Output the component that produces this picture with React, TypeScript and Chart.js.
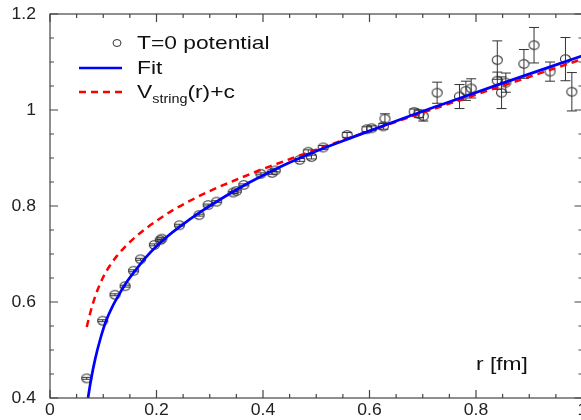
import React, { useEffect, useRef } from "react";
import { Chart, registerables } from "chart.js";

Chart.register(...registerables);

// Lattice potential data points (r in fm, V, error)
const rPts = [0.069, 0.099, 0.122, 0.141, 0.157, 0.170, 0.196, 0.207, 0.210, 0.243, 0.280, 0.297, 0.313, 0.344, 0.350, 0.364, 0.396, 0.417, 0.423, 0.469, 0.485, 0.491, 0.513, 0.558, 0.595, 0.604, 0.626, 0.629, 0.684, 0.693, 0.701, 0.727, 0.769, 0.781, 0.791, 0.840, 0.840, 0.848, 0.856, 0.890, 0.909, 0.939, 0.968, 0.980];
const vPts = [0.441, 0.561, 0.615, 0.633, 0.665, 0.689, 0.719, 0.729, 0.732, 0.760, 0.781, 0.802, 0.809, 0.828, 0.831, 0.844, 0.867, 0.869, 0.874, 0.896, 0.913, 0.902, 0.922, 0.948, 0.960, 0.962, 0.966, 0.982, 0.996, 0.992, 0.987, 1.036, 1.028, 1.040, 1.045, 1.104, 1.061, 1.036, 1.057, 1.096, 1.135, 1.080, 1.106, 1.038];
const vErr = [0.002, 0.002, 0.002, 0.002, 0.002, 0.002, 0.002, 0.002, 0.002, 0.002, 0.002, 0.002, 0.002, 0.002, 0.002, 0.002, 0.002, 0.003, 0.003, 0.003, 0.004, 0.004, 0.004, 0.005, 0.005, 0.005, 0.006, 0.010, 0.006, 0.008, 0.010, 0.022, 0.025, 0.020, 0.020, 0.040, 0.018, 0.033, 0.020, 0.030, 0.037, 0.020, 0.045, 0.040];

// Fit curve (blue)
const rFit = [0.0714, 0.077, 0.085, 0.095, 0.105, 0.117, 0.130, 0.145, 0.162, 0.180, 0.200, 0.222, 0.244, 0.282, 0.338, 0.376, 0.413, 0.451, 0.488, 0.570, 0.664, 0.732, 0.850, 1.000];
const vFit = [0.400, 0.438, 0.482, 0.525, 0.560, 0.590, 0.616, 0.643, 0.668, 0.693, 0.716, 0.738, 0.757, 0.787, 0.826, 0.850, 0.871, 0.891, 0.909, 0.944, 0.983, 1.010, 1.056, 1.113];

// String potential + c (red dashed)
const rStr = [0.069, 0.075, 0.082, 0.090, 0.100, 0.112, 0.125, 0.140, 0.160, 0.180, 0.200, 0.232, 0.294, 0.357, 0.400, 0.451, 0.532, 0.657, 0.800, 1.000];
const vStr = [0.548, 0.575, 0.602, 0.627, 0.652, 0.675, 0.695, 0.714, 0.735, 0.753, 0.769, 0.792, 0.828, 0.858, 0.877, 0.898, 0.930, 0.978, 1.032, 1.106];

const xTickValues = [0, 0.2, 0.4, 0.6, 0.8, 1.0];
const xTickLabels = ["0", "0.2", "0.4", "0.6", "0.8", "1"];
const yTickValues = [0.4, 0.6, 0.8, 1.0, 1.2];
const yTickLabels = ["0.4", "0.6", "0.8", "1", "1.2"];

const legendPoints = "T=0 potential";
const legendFit = "Fit";
const legendStrMain = "V";
const legendStrSub = "string";
const legendStrTail = "(r)+c";
const xTitle = "r [fm]";

const FONT = "'Liberation Sans', Arial, Helvetica, sans-serif";

function makeEllipse(rx: number, ry: number): HTMLCanvasElement {
  const c = document.createElement("canvas");
  c.width = Math.ceil(rx * 2 + 3);
  c.height = Math.ceil(ry * 2 + 3);
  const g = c.getContext("2d")!;
  g.strokeStyle = "#333";
  g.lineWidth = 1.1;
  g.beginPath();
  g.ellipse(c.width / 2, c.height / 2, rx, ry, 0, 0, Math.PI * 2);
  g.stroke();
  return c;
}

function stretchText(ctx: CanvasRenderingContext2D, text: string, x: number, y: number, align: CanvasTextAlign, sx: number) {
  ctx.save();
  ctx.translate(x, y);
  ctx.scale(sx, 1);
  ctx.textAlign = align;
  ctx.fillText(text, 0, 0);
  const w = ctx.measureText(text).width * sx;
  ctx.restore();
  return w;
}

const framePlugin = {
  id: "framePlugin",
  beforeDatasetsDraw(chart: any) {
    const ctx = chart.ctx as CanvasRenderingContext2D;
    const xs = chart.scales.x;
    const ys = chart.scales.y;
    ctx.save();
    ctx.strokeStyle = "#333";
    ctx.lineWidth = 1;
    for (let i = 0; i < rPts.length; i++) {
      const px = xs.getPixelForValue(rPts[i]);
      const pTop = ys.getPixelForValue(vPts[i] + vErr[i]);
      const pBot = ys.getPixelForValue(vPts[i] - vErr[i]);
      const cap = 5;
      ctx.beginPath();
      ctx.moveTo(px, pTop);
      ctx.lineTo(px, pBot);
      ctx.moveTo(px - cap, pTop);
      ctx.lineTo(px + cap, pTop);
      ctx.moveTo(px - cap, pBot);
      ctx.lineTo(px + cap, pBot);
      ctx.stroke();
    }
    ctx.restore();
  },
  afterDraw(chart: any) {
    const ctx = chart.ctx as CanvasRenderingContext2D;
    const xs = chart.scales.x;
    const ys = chart.scales.y;
    const a = chart.chartArea;
    ctx.save();
    ctx.strokeStyle = "#444";
    ctx.lineWidth = 1.2;
    ctx.strokeRect(a.left, a.top, a.right - a.left, a.bottom - a.top);

    // ticks
    ctx.beginPath();
    for (let k = 0; k <= 20; k++) {
      const v = k * 0.05;
      const major = k % 4 === 0;
      const len = major ? 8 : 4;
      const px = xs.getPixelForValue(v);
      ctx.moveTo(px, a.bottom);
      ctx.lineTo(px, a.bottom - len);
      ctx.moveTo(px, a.top);
      ctx.lineTo(px, a.top + len);
    }
    for (let k = 0; k <= 16; k++) {
      const v = 0.4 + k * 0.05;
      const major = k % 4 === 0;
      const len = major ? 8 : 4;
      const py = ys.getPixelForValue(v);
      ctx.moveTo(a.left, py);
      ctx.lineTo(a.left + len, py);
      ctx.moveTo(a.right, py);
      ctx.lineTo(a.right - len, py);
    }
    ctx.stroke();

    // tick labels
    ctx.fillStyle = "#222";
    ctx.font = `16px ${FONT}`;
    ctx.textBaseline = "middle";
    for (let i = 0; i < xTickValues.length; i++) {
      const px = xs.getPixelForValue(xTickValues[i]);
      stretchText(ctx, xTickLabels[i], px, a.bottom + 13, "center", 1.1);
    }
    for (let i = 0; i < yTickValues.length; i++) {
      const py = ys.getPixelForValue(yTickValues[i]);
      stretchText(ctx, yTickLabels[i], a.left - 14, py + 1, "right", 1.1);
    }

    // axis title
    ctx.fillStyle = "#111";
    ctx.font = `19px ${FONT}`;
    stretchText(ctx, xTitle, 476, 365, "left", 1.2);

    // legend
    const tx = 137;
    ctx.strokeStyle = "#333";
    ctx.lineWidth = 1;
    ctx.beginPath();
    ctx.ellipse(117, 43, 4, 3.5, 0, 0, Math.PI * 2);
    ctx.stroke();
    stretchText(ctx, legendPoints, tx, 44, "left", 1.2);

    ctx.strokeStyle = "rgb(0,0,255)";
    ctx.lineWidth = 2.5;
    ctx.beginPath();
    ctx.moveTo(79, 68);
    ctx.lineTo(122, 68);
    ctx.stroke();
    stretchText(ctx, legendFit, tx, 69, "left", 1.2);

    ctx.strokeStyle = "rgb(255,0,0)";
    ctx.setLineDash([7, 5]);
    ctx.beginPath();
    ctx.moveTo(79, 92);
    ctx.lineTo(122, 92);
    ctx.stroke();
    ctx.setLineDash([]);
    let cx = tx;
    cx += stretchText(ctx, legendStrMain, cx, 93, "left", 1.2);
    ctx.font = `12px ${FONT}`;
    cx += stretchText(ctx, legendStrSub, cx, 100, "left", 1.2);
    ctx.font = `19px ${FONT}`;
    stretchText(ctx, legendStrTail, cx, 93, "left", 1.2);
    ctx.restore();
  },
};

export default function App() {
  const ref = useRef<HTMLCanvasElement | null>(null);
  useEffect(() => {
    if (!ref.current) return;
    const ptImg = makeEllipse(5, 4.2);
    const chart = new Chart(ref.current, {
      type: "scatter",
      data: {
        datasets: [
          {
            type: "line",
            label: legendFit,
            data: rFit.map((r, i) => ({ x: r, y: vFit[i] })),
            borderColor: "rgb(0,0,255)",
            borderWidth: 2.7,
            pointRadius: 0,
            cubicInterpolationMode: "monotone",
            fill: false,
            order: 1,
          } as any,
          {
            type: "line",
            label: "Vstring",
            data: rStr.map((r, i) => ({ x: r, y: vStr[i] })),
            borderColor: "rgb(255,0,0)",
            borderWidth: 2.5,
            borderDash: [7, 5],
            pointRadius: 0,
            cubicInterpolationMode: "monotone",
            fill: false,
            order: 2,
          } as any,
          {
            type: "scatter",
            label: legendPoints,
            data: rPts.map((r, i) => ({ x: r, y: vPts[i] })),
            pointStyle: ptImg,
            pointRadius: 5,
            order: 3,
          } as any,
        ],
      },
      options: {
        responsive: false,
        animation: false,
        devicePixelRatio: 1,
        layout: { padding: { left: 50, top: 14, right: 17.5, bottom: 22 } },
        plugins: { legend: { display: false }, tooltip: { enabled: false } },
        scales: {
          x: { type: "linear", min: 0, max: 1, display: false },
          y: { type: "linear", min: 0.4, max: 1.2, display: false },
        },
      },
      plugins: [framePlugin],
    });
    return () => chart.destroy();
  }, []);
  return (
    <div style={{ position: "fixed", left: 0, top: 0, width: 581, height: 420, overflow: "hidden", background: "#fff" }}>
      <canvas ref={ref} width={600} height={420} style={{ display: "block", width: 600, height: 420 }} />
    </div>
  );
}
